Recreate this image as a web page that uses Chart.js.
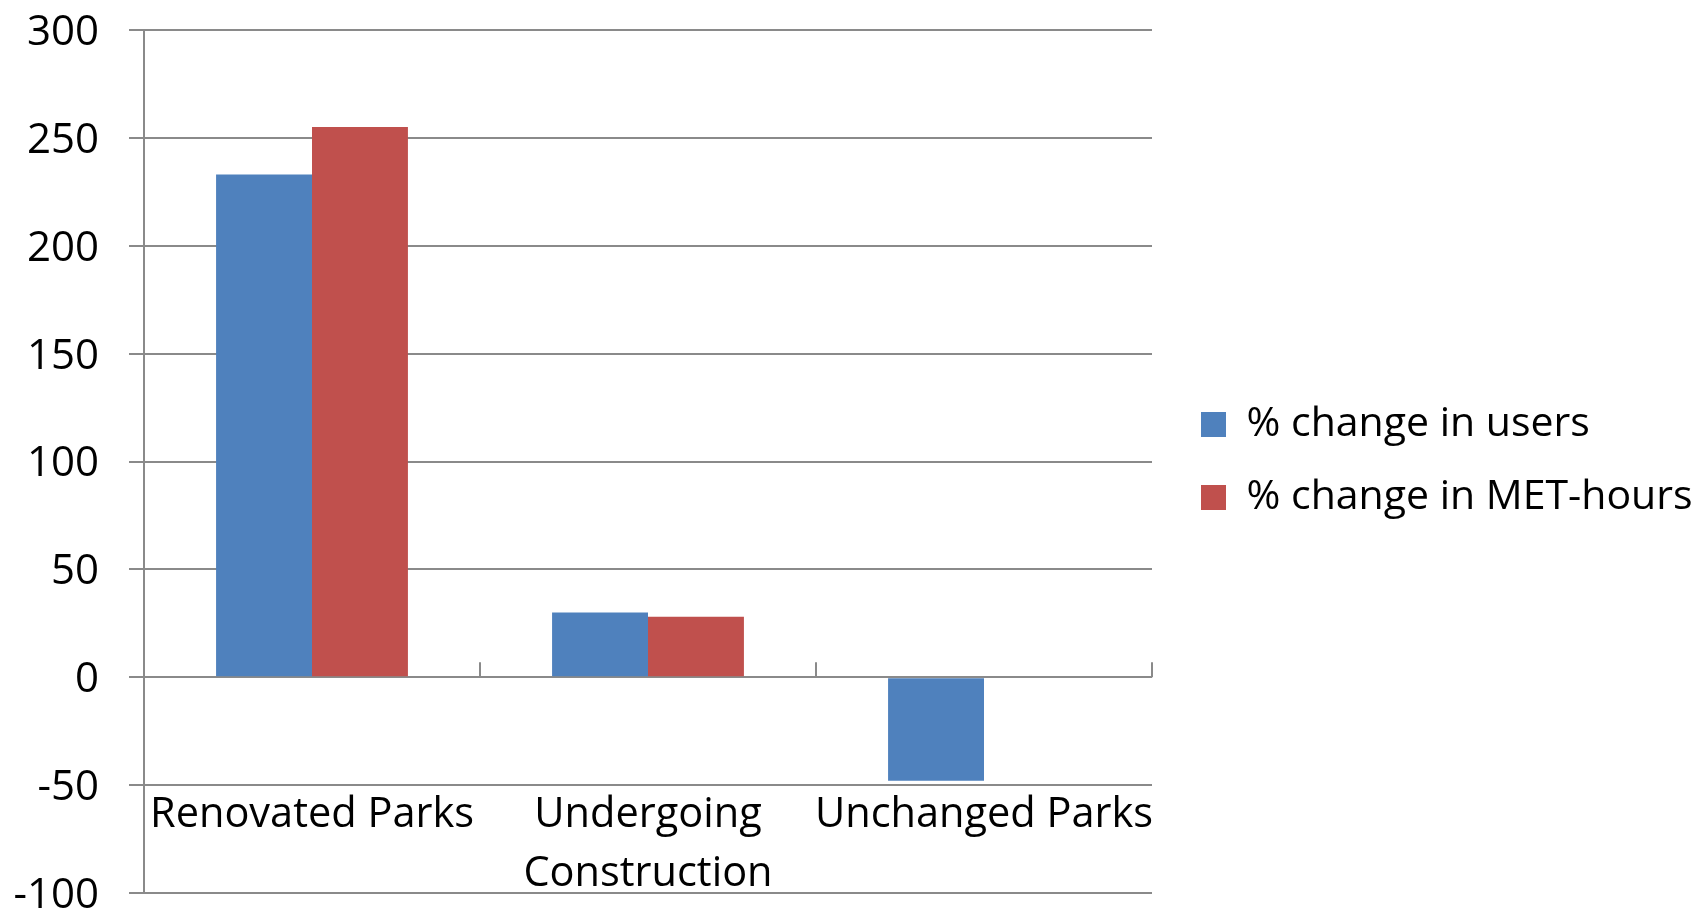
<!DOCTYPE html>
<html>
<head>
<meta charset="utf-8">
<script src="https://cdn.jsdelivr.net/npm/chart.js@4.4.0/dist/chart.umd.min.js"></script>
<style>
    html, body { margin: 0; padding: 0; background: #fff; }
</style>
</head>
<body>
<canvas id="parksChart" width="1700" height="910"></canvas>
<script>
// Données : variation (%) par type de parc
const categories = ['Renovated Parks', ['Undergoing', 'Construction'], 'Unchanged Parks'];
const usersChange = [233, 30, -48];
const metHoursChange = [255, 28, 0.5];
const yMin = -100;
const yMax = 300;
const yStep = 50;

const gridGrey = '#8a8a8a';

// Petites graduations verticales sur la ligne du zéro, entre les catégories
const zeroLineTicks = {
    id: 'zeroLineTicks',
    afterDatasetsDraw(chart) {
        const x = chart.scales.x;
        const y = chart.scales.y;
        const y0 = y.getPixelForValue(0);
        const ctx = chart.ctx;
        ctx.save();
        ctx.strokeStyle = gridGrey;
        ctx.lineWidth = 2;
        for (let i = 0; i < categories.length; i++) {
            const px = x.getPixelForValue(i + 0.5);
            ctx.beginPath();
            ctx.moveTo(px, y0);
            ctx.lineTo(px, y0 - 15);
            ctx.stroke();
        }
        ctx.restore();
    }
};

// Décale un peu la légende et l'élargit jusqu'au bord du canvas (pas de texte coupé)
const legendOffset = {
    id: 'legendOffset',
    afterLayout(chart) {
        const lg = chart.legend;
        lg.left += 17;
        lg.top -= 9;
        lg.bottom -= 9;
        lg.right = chart.width;
        lg.width = lg.right - lg.left;
    }
};

const ctx = document.getElementById('parksChart').getContext('2d');
new Chart(ctx, {
    type: 'bar',
    data: {
        labels: categories,
        datasets: [
            {
                label: '% change in users',
                data: usersChange,
                backgroundColor: '#4f81bd',
                borderWidth: 0
            },
            {
                label: '% change in MET-hours',
                data: metHoursChange,
                backgroundColor: '#c0504d',
                borderWidth: 0
            }
        ]
    },
    options: {
        responsive: false,
        animation: false,
        categoryPercentage: 0.571,
        barPercentage: 1.0,
        layout: { padding: { top: 30, left: 0, right: 164, bottom: 0 } },
        plugins: {
            tooltip: { enabled: false },
            legend: {
                position: 'right',
                align: 'center',
                labels: {
                    boxWidth: 25,
                    boxHeight: 25,
                    padding: 32,
                    color: '#000',
                    font: { family: 'Open Sans', size: 41 }
                }
            }
        },
        scales: {
            x: {
                grid: { display: false },
                border: { display: false },
                ticks: {
                    autoSkip: false,
                    maxRotation: 0,
                    mirror: true,
                    padding: 48,
                    color: '#000',
                    font: { family: 'Open Sans', size: 41.5, lineHeight: 1.42 }
                },
                afterFit(scale) {
                    scale.height = 17;
                    scale.paddingLeft = 0;
                    scale.paddingRight = 0;
                }
            },
            y: {
                min: yMin,
                max: yMax,
                ticks: {
                    stepSize: yStep,
                    padding: 30,
                    labelOffset: 3,
                    color: '#000',
                    font: { family: 'Open Sans', size: 42 }
                },
                grid: { color: gridGrey, lineWidth: 2, tickLength: 15 },
                border: { display: true, color: gridGrey, width: 2 },
                afterFit(scale) {
                    scale.width = 144;
                    scale.paddingTop = 0;
                    scale.paddingBottom = 0;
                }
            }
        }
    },
    plugins: [zeroLineTicks, legendOffset]
});
</script>
</body>
</html>
